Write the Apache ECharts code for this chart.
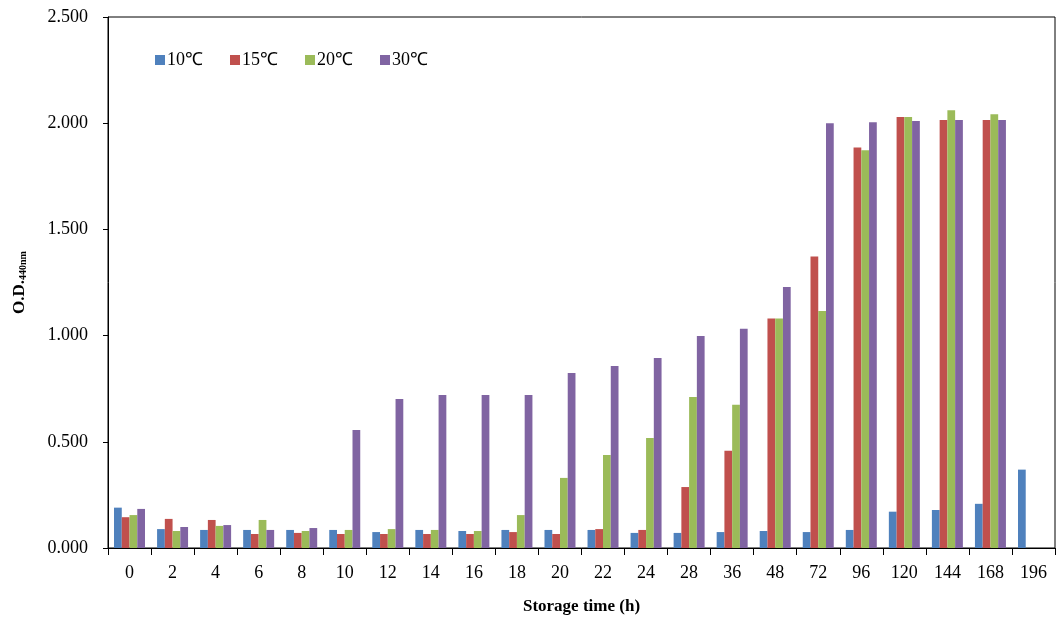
<!DOCTYPE html>
<html><head><meta charset="utf-8">
<script src="https://cdn.jsdelivr.net/npm/echarts@6/dist/echarts.min.js"></script>
<style>html,body{margin:0;padding:0;background:#fff}#c{width:1064px;height:623px}</style>
</head><body><div id="c"></div>
<script>
const categories = ['0','2','4','6','8','10','12','14','16','18','20','22','24','28','36','48','72','96','120','144','168','196'];
const seriesNames = ['10℃','15℃','20℃','30℃'];
const s10 = [0.190,0.089,0.085,0.085,0.085,0.085,0.075,0.085,0.080,0.085,0.085,0.085,0.071,0.071,0.075,0.080,0.075,0.085,0.171,0.179,0.208,0.369];
const s15 = [0.145,0.137,0.132,0.066,0.071,0.066,0.066,0.066,0.066,0.075,0.066,0.089,0.085,0.287,0.458,1.080,1.372,1.886,2.029,2.015,2.015,null];
const s20 = [0.155,0.080,0.104,0.132,0.080,0.085,0.089,0.085,0.080,0.155,0.330,0.438,0.518,0.711,0.674,1.080,1.116,1.873,2.029,2.061,2.042,null];
const s30 = [0.184,0.099,0.108,0.085,0.094,0.556,0.702,0.720,0.720,0.720,0.824,0.857,0.895,0.998,1.032,1.229,2.000,2.005,2.010,2.015,2.015,null];
const colors = ['#4F81BD','#C0504D','#9BBB59','#8064A2'];
const font = '"Liberation Serif", "Times New Roman", serif';
const data = [s10, s15, s20, s30];
const chart = echarts.init(document.getElementById('c'));
chart.setOption({
  animation:false,
  color: colors,
  grid:{left:108,right:9,top:17,bottom:75,show:true,borderColor:'#000',borderWidth:1},
  legend:{
    left:150, top:46, itemWidth:10, itemHeight:10, itemGap:27,
    icon:'rect',
    textStyle:{fontFamily:font,fontSize:18,color:'#000',padding:[0,0,0,-3]},
    data: seriesNames
  },
  xAxis:{
    type:'category', data:categories,
    name:'Storage time (h)', nameLocation:'middle', nameGap:50,
    nameTextStyle:{fontFamily:font,fontSize:17,fontWeight:'bold',color:'#000'},
    axisLine:{lineStyle:{color:'#000',width:1}},
    axisTick:{show:true,alignWithLabel:false,length:7,lineStyle:{color:'#000'}},
    axisLabel:{fontFamily:font,fontSize:18,color:'#000',margin:16}
  },
  yAxis:{
    type:'value', min:0, max:2.5, interval:0.5,
    name:'{a|O.D.}{b|440nm}', nameLocation:'middle', nameGap:80, nameRotate:90,
    nameTextStyle:{rich:{
      a:{fontFamily:font,fontSize:17,fontWeight:'bold',color:'#000'},
      b:{fontFamily:font,fontSize:10,fontWeight:'bold',color:'#000',verticalAlign:'bottom',padding:[6,0,0,0]}
    }},
    axisLine:{show:true,lineStyle:{color:'#000',width:1}},
    axisTick:{show:true,length:5,lineStyle:{color:'#000'}},
    splitLine:{show:false},
    axisLabel:{fontFamily:font,fontSize:18,color:'#000',margin:20,formatter:v=>v.toFixed(3)}
  },
  series: seriesNames.map((n,i)=>({
    name:n, type:'bar', data:data[i], barGap:'0%', barCategoryGap:'28%'
  }))
});
</script></body></html>
